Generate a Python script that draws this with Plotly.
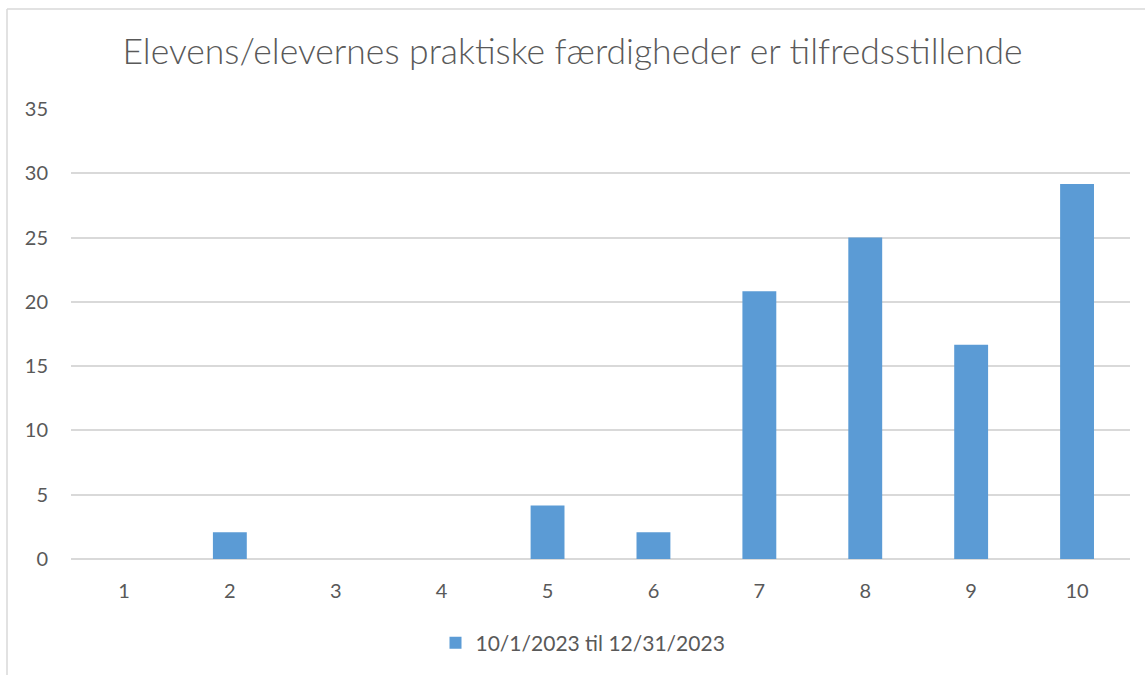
import plotly.graph_objects as go

categories = ["1", "2", "3", "4", "5", "6", "7", "8", "9", "10"]
values = [0, 2.08, 0, 0, 4.17, 2.08, 20.83, 25.0, 16.67, 29.17]
series_name = "10/1/2023 til 12/31/2023"
title_text = "Elevens/elevernes praktiske færdigheder er tilfredsstillende"
y_ticks = [0, 5, 10, 15, 20, 25, 30, 35]

FONT = "Lato, Calibri, sans-serif"
TXT = "#595959"
GRID = "#d9d9d9"

fig = go.Figure()
fig.add_trace(go.Bar(x=categories, y=values, name=series_name,
                     marker=dict(color="#5b9bd5", line=dict(width=0))))

L, R, T, B = 71, 15, 109, 116
W, H = 1145, 675
pw, ph = W - L - R, H - T - B

def px(x):
    return (x - L) / pw

def py(y):
    return (H - B - y) / ph

fig.update_layout(
    width=W, height=H,
    margin=dict(l=L, r=R, t=T, b=B, autoexpand=False),
    paper_bgcolor="white", plot_bgcolor="white",
    font=dict(family=FONT, color=TXT, size=20),
    title=dict(text=title_text, x=0.5, xanchor="center", xref="container",
               y=1 - 52 / H, yanchor="middle", yref="container",
               font=dict(family=FONT, size=35.5, color=TXT, weight=300)),
    bargap=0.68,
    showlegend=True,
    legend=dict(orientation="h", x=px(583), xanchor="center", y=py(643), yanchor="middle",
                font=dict(size=21, color=TXT), itemwidth=30),
    xaxis=dict(type="category", showgrid=False, showline=False, ticks="",
               ticklabelstandoff=18, tickfont=dict(size=20, color=TXT)),
    yaxis=dict(range=[0, 35], tickvals=y_ticks, showgrid=True, gridcolor=GRID, gridwidth=1.5,
               zeroline=True, zerolinecolor=GRID, zerolinewidth=1.5, showline=False,
               ticks="", ticklabelstandoff=22, tickfont=dict(size=20, color=TXT)),
    shapes=[
        dict(type="line", xref="paper", yref="paper", x0=px(7), x1=px(7), y0=py(9), y1=py(H + 10),
             line=dict(color=GRID, width=1.5)),
        dict(type="line", xref="paper", yref="paper", x0=px(7), x1=px(W + 10), y0=py(9), y1=py(9),
             line=dict(color=GRID, width=1.5)),
    ],
)

fig.write_html("out.html", config={"displayModeBar": False},
               post_script="document.body.style.margin='0';document.body.style.overflow='hidden';")
